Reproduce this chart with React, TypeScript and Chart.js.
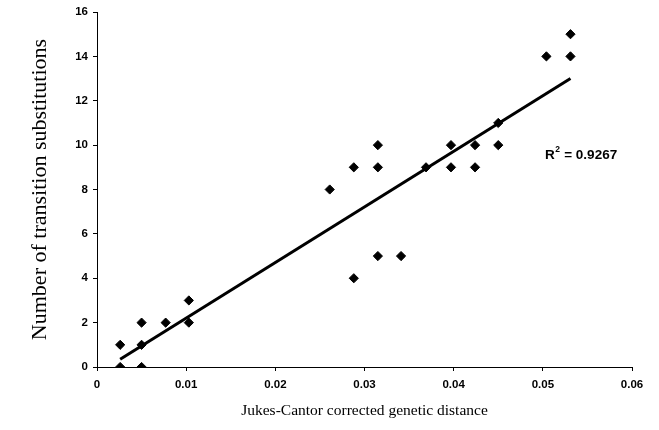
import React, { useEffect, useRef } from "react";
import { Chart, registerables } from "chart.js";

Chart.register(...registerables);

// Jukes-Cantor corrected genetic distance (x) vs. number of transition substitutions (y)
const distances = [
  0.0026, 0.0026, 0.0050, 0.0050, 0.0050, 0.0077, 0.0103, 0.0103,
  0.0261, 0.0288, 0.0288, 0.0315, 0.0315, 0.0315, 0.0341, 0.0369,
  0.0397, 0.0397, 0.0424, 0.0424, 0.0450, 0.0450, 0.0504, 0.0531, 0.0531,
];
const substitutions = [
  1, 0, 2, 1, 0, 2, 3, 2,
  8, 9, 4, 10, 9, 5, 5, 9,
  10, 9, 10, 9, 11, 10, 14, 15, 14,
];

// Fitted trend line end points
const trendX = [0.0026, 0.0531];
const trendY = [0.35, 13.0];

const xTickLabels = ["0", "0.01", "0.02", "0.03", "0.04", "0.05", "0.06"];
const yTickLabels = ["0", "2", "4", "6", "8", "10", "12", "14", "16"];
const rSquaredText = "0.9267";

const xTitle = "Jukes-Cantor corrected genetic distance";
const yTitle = "Number of transition substitutions";

const r2Plugin = {
  id: "r2label",
  afterDatasetsDraw(chart: any) {
    const { ctx } = chart;
    ctx.save();
    ctx.fillStyle = "#000";
    ctx.textBaseline = "middle";
    ctx.textAlign = "left";
    const x0 = 545;
    const y0 = 155;
    ctx.font = "bold 13.5px 'Liberation Sans', Arial, sans-serif";
    ctx.fillText("R", x0, y0);
    const wR = ctx.measureText("R").width;
    ctx.font = "bold 8.5px 'Liberation Sans', Arial, sans-serif";
    ctx.fillText("2", x0 + wR + 0.5, y0 - 5);
    const w2 = ctx.measureText("2").width;
    ctx.font = "bold 13.5px 'Liberation Sans', Arial, sans-serif";
    ctx.fillText(" = " + rSquaredText, x0 + wR + w2 + 1, y0);
    ctx.restore();
  },
};

export default function App() {
  const ref = useRef<HTMLCanvasElement | null>(null);

  useEffect(() => {
    document.body.style.margin = "0";
    const canvas = ref.current;
    if (!canvas) return;
    const points = distances.map((d, i) => ({ x: d, y: substitutions[i] }));
    const trend = trendX.map((d, i) => ({ x: d, y: trendY[i] }));
    const tickFont = { family: "'Liberation Sans', Arial, sans-serif", size: 11.5, weight: "bold" as const };
    const chart = new Chart(canvas, {
      type: "scatter",
      data: {
        datasets: [
          {
            label: "Trend",
            data: trend,
            showLine: true,
            borderColor: "#000",
            borderWidth: 3,
            pointRadius: 0,
            fill: false,
          },
          {
            label: "Observed",
            data: points,
            pointStyle: "rectRot",
            pointRadius: 4.6,
            backgroundColor: "#000",
            borderColor: "#000",
            borderWidth: 1,
          },
        ],
      },
      options: {
        animation: false,
        responsive: false,
        devicePixelRatio: 1,
        layout: { padding: { top: 12, right: 27, left: 0, bottom: 0 } },
        plugins: { legend: { display: false }, tooltip: { enabled: false } },
        scales: {
          x: {
            type: "linear",
            min: 0,
            max: 0.06,
            afterFit: (s: any) => { s.height = 63; },
            ticks: {
              stepSize: 0.01,
              color: "#000",
              font: tickFont,
              padding: 7,
              maxRotation: 0,
              callback: (_v: any, i: number) => xTickLabels[i],
            },
            grid: { drawOnChartArea: false, drawTicks: true, tickLength: 4, color: "#000" },
            border: { display: true, color: "#000", width: 1 },
            title: {
              display: true,
              text: xTitle,
              color: "#000",
              font: { family: "'Liberation Serif', 'Times New Roman', serif", size: 15.5 },
              padding: { top: 0, bottom: 10 },
            },
          },
          y: {
            type: "linear",
            min: 0,
            max: 16,
            afterFit: (s: any) => { s.width = 97; },
            ticks: {
              stepSize: 2,
              color: "#000",
              font: tickFont,
              padding: 5,
              callback: (_v: any, i: number) => yTickLabels[i],
            },
            grid: { drawOnChartArea: false, drawTicks: true, tickLength: 4, color: "#000" },
            border: { display: true, color: "#000", width: 1 },
            title: {
              display: true,
              text: yTitle,
              color: "#000",
              font: { family: "'Liberation Serif', 'Times New Roman', serif", size: 22 },
              padding: { top: 27, bottom: 0 },
            },
          },
        },
      },
      plugins: [r2Plugin],
    });
    return () => chart.destroy();
  }, []);

  return (
    <div style={{ width: 659, height: 430, background: "#fff" }}>
      <canvas ref={ref} width={659} height={430} style={{ display: "block" }} />
    </div>
  );
}
